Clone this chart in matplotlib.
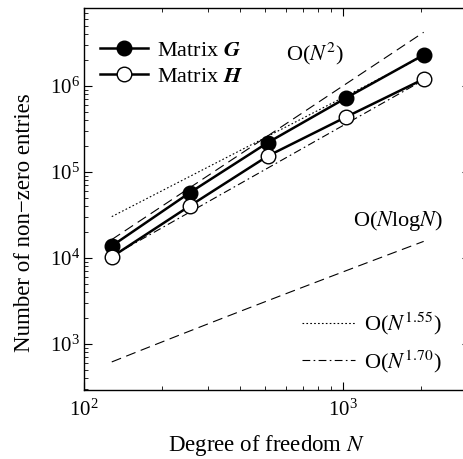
import numpy as np
import matplotlib
matplotlib.use("Agg")
import matplotlib.pyplot as plt

plt.rcParams["font.family"] = ["Liberation Serif", "DejaVu Serif"]
plt.rcParams["mathtext.fontset"] = "stix"
plt.rcParams["axes.unicode_minus"] = True

# data
dof = [128, 256, 512, 1024, 2048]
nnz_G = [13800, 57400, 219000, 720000, 2290000]
nnz_H = [10300, 40300, 153000, 433000, 1200000]

# reference slopes (coefficients)
ref_n = np.array([128, 2048])
c_n2 = 1.0
c_155 = 16.4
c_170 = 2.75
c_nlogn = 1.0

fig = plt.figure(figsize=(4.64, 4.59), dpi=100)
ax = fig.add_axes([0.181, 0.150, 0.831, 0.833])

ax.plot(ref_n, c_n2 * ref_n ** 2.0, color="black", lw=0.8, ls=(0, (9, 5)))
l155, = ax.plot(ref_n, c_155 * ref_n ** 1.55, color="black", lw=0.8, ls=(0, (1.5, 2)))
l170, = ax.plot(ref_n, c_170 * ref_n ** 1.70, color="black", lw=0.8, ls=(0, (7, 3, 1.5, 3)))
nn = np.linspace(128, 2048, 50)
ax.plot(nn, c_nlogn * nn * np.log(nn), color="black", lw=0.8, ls=(0, (9, 5)))

lG, = ax.plot(dof, nnz_G, "-o", color="black", lw=1.8, ms=10.5,
              mfc="black", mec="black", mew=1.0)
lH, = ax.plot(dof, nnz_H, "-o", color="black", lw=1.8, ms=10.5,
              mfc="white", mec="black", mew=1.0)

ax.set_xscale("log")
ax.set_yscale("log")
ax.set_xlim(100, 3080)
ax.set_ylim(292, 8.07e6)

ax.tick_params(which="both", direction="in", top=True, right=True, labelsize=15)
ax.tick_params(which="major", length=6, width=0.8, pad=3)
ax.tick_params(which="minor", length=3, width=0.6)
ax.tick_params(axis="x", which="major", pad=7)
for s in ax.spines.values():
    s.set_linewidth(1.0)

ax.set_xlabel("Degree of freedom $N$", fontsize=16.5)
ax.set_ylabel("Number of non\u2212zero entries", fontsize=16.5)
ax.xaxis.set_label_coords(0.474, -0.112)
ax.yaxis.set_label_coords(-0.128, 0.437)

ax.text(0.60, 0.88, "O($N^2$)", transform=ax.transAxes, fontsize=16,
        ha="center", va="center")
ax.text(0.815, 0.442, "O($N$log$N$)", transform=ax.transAxes, fontsize=16,
        ha="center", va="center")

leg1 = ax.legend([lG, lH], ["Matrix $\\mathbfit{G}$", "Matrix $\\mathbfit{H}$"],
                 loc="upper left", bbox_to_anchor=(0.0, 0.955), frameon=False,
                 fontsize=16, handlelength=2.2, handletextpad=0.4,
                 borderaxespad=0.3, labelspacing=0.25)
ax.add_artist(leg1)
ax.legend([l155, l170], ["O($N^{1.55}$)", "O($N^{1.70}$)"], loc="lower right",
          bbox_to_anchor=(0.968, 0.0), frameon=False, fontsize=16,
          handlelength=2.4, handletextpad=0.4, borderaxespad=0.3,
          labelspacing=0.5)

fig.savefig("out.png", dpi=100)
